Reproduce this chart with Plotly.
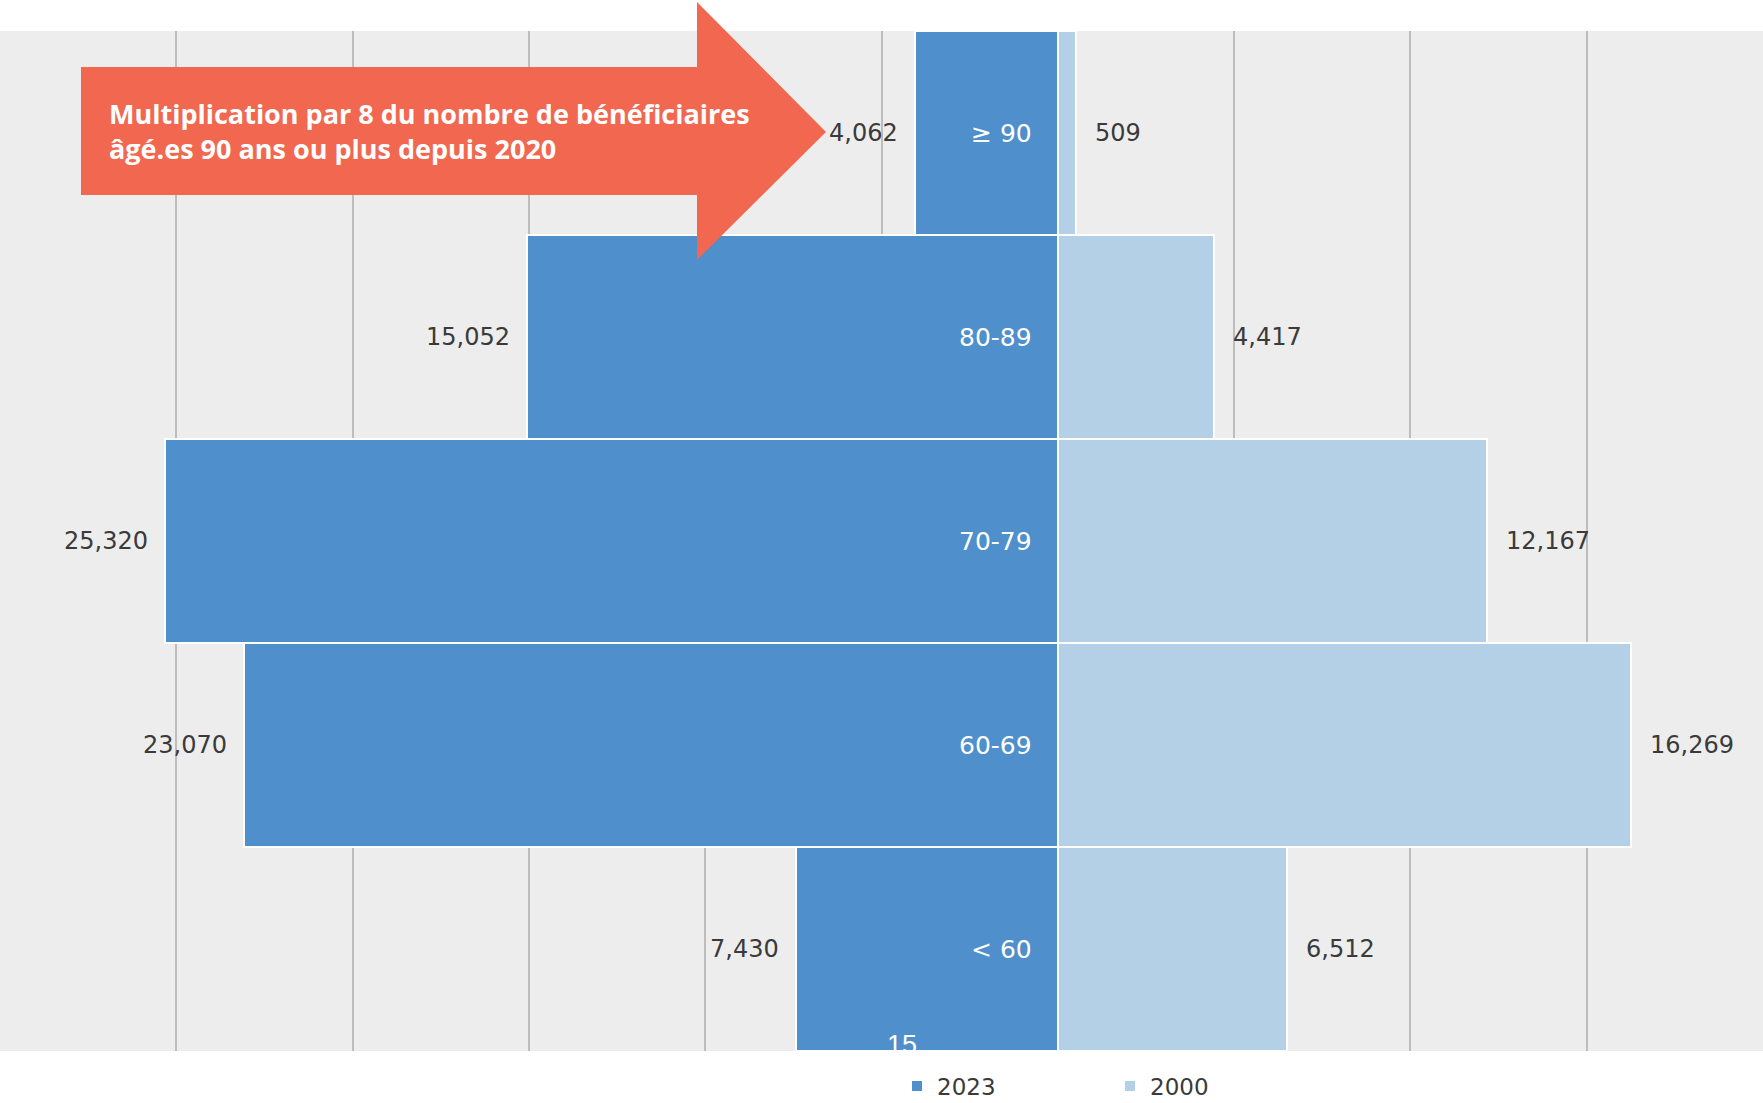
import plotly.graph_objects as go

categories = ["≥ 90", "80-89", "70-79", "60-69", "< 60"]
values_2023 = [4062, 15052, 25320, 23070, 7430]
values_2000 = [509, 4417, 12167, 16269, 6512]
series_names = ["2023", "2000"]
arrow_text = "Multiplication par 8 du nombre de bénéficiaires<br>âgé.es 90 ans ou plus depuis 2020"
page_number = "15"

C2023 = "#4F8FCB"
C2000 = "#B4D0E7"
W, H = 1763, 1103
MT, MB = 31, 52
PH = H - MT - MB

def px_x(x):
    return x / W

def px_y(y):
    return (H - MB - y) / PH

fig = go.Figure()
fig.add_trace(go.Bar(
    y=categories, x=[-v for v in values_2023], orientation="h", name=series_names[0],
    marker=dict(color=C2023, line=dict(color="white", width=2)),
))
fig.add_trace(go.Bar(
    y=categories, x=values_2000, orientation="h", name=series_names[1],
    marker=dict(color=C2000, line=dict(color="white", width=2)),
))

ann = []
lab_font = dict(family="DejaVu Sans", size=24, color="#3a3a3a")
for c, v in zip(categories, values_2023):
    ann.append(dict(x=-v, y=c, xref="x", yref="y", text=f"{v:,}", showarrow=False,
                    xanchor="right", xshift=-15, font=lab_font))
    ann.append(dict(x=0, y=c, xref="x", yref="y", text=c, showarrow=False,
                    xanchor="right", xshift=-24, font=dict(family="DejaVu Sans", size=25, color="white")))
for c, v in zip(categories, values_2000):
    ann.append(dict(x=v, y=c, xref="x", yref="y", text=f"{v:,}", showarrow=False,
                    xanchor="left", xshift=17, font=lab_font))

ann.append(dict(x=px_x(107), y=px_y(131), xref="paper", yref="paper", text=arrow_text,
                showarrow=False, xanchor="left", yanchor="middle", align="left",
                font=dict(family="Liberation Sans Narrow, Open Sans, sans-serif", size=27, color="white", weight="bold")))
ann.append(dict(x=px_x(902), y=px_y(1045), xref="paper", yref="paper", text=page_number,
                showarrow=False, xanchor="center", yanchor="middle",
                font=dict(family="Liberation Sans, sans-serif", size=27, color="white")))

pts = [(81, 67), (697, 67), (697, 2), (826, 132), (697, 260), (697, 195), (81, 195)]
path = "M " + " L ".join(f"{px_x(a):.5f},{px_y(b):.5f}" for a, b in pts) + " Z"

fig.update_layout(
    width=W, height=H,
    margin=dict(l=0, r=0, t=MT, b=MB, autoexpand=False),
    paper_bgcolor="white", plot_bgcolor="#EDEDED",
    barmode="overlay", bargap=0,
    xaxis=dict(range=[-30000, 20000], dtick=5000, tick0=0, showgrid=True, gridcolor="#BDBDBD",
               gridwidth=1.5, zeroline=False, showticklabels=False, fixedrange=True),
    yaxis=dict(autorange="reversed", showgrid=False, zeroline=False, showticklabels=False),
    showlegend=True,
    legend=dict(orientation="h", x=px_x(897), y=px_y(1086), xanchor="left", yanchor="middle",
                font=dict(family="DejaVu Sans", size=23, color="#3a3a3a"),
                entrywidth=168, entrywidthmode="pixels", bgcolor="rgba(0,0,0,0)"),
    annotations=ann,
    shapes=[dict(type="path", path=path, xref="paper", yref="paper",
                 fillcolor="#F2674F", line=dict(width=0), layer="above")],
)

fig.write_html("out.html")
